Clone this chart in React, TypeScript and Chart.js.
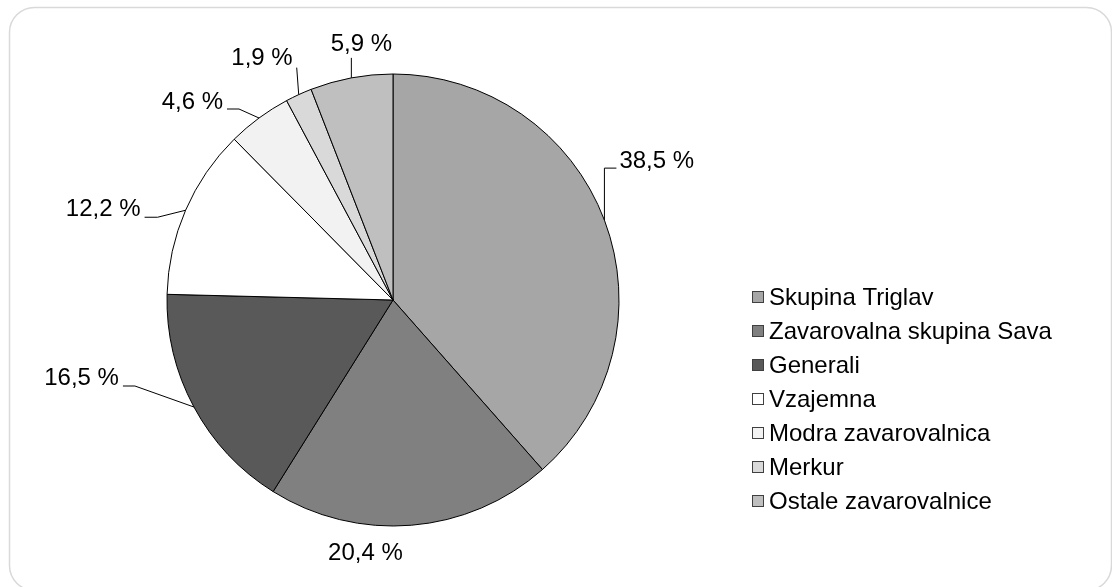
import React, { useEffect, useRef } from "react";
import { Chart, registerables } from "chart.js";

Chart.register(...registerables);

const categories = [
  "Skupina Triglav",
  "Zavarovalna skupina Sava",
  "Generali",
  "Vzajemna",
  "Modra zavarovalnica",
  "Merkur",
  "Ostale zavarovalnice",
];
const shares = [38.5, 20.4, 16.5, 12.2, 4.6, 1.9, 5.9];
const shareLabels = ["38,5 %", "20,4 %", "16,5 %", "12,2 %", "4,6 %", "1,9 %", "5,9 %"];
const sliceColors = ["#a6a6a6", "#808080", "#595959", "#ffffff", "#f2f2f2", "#d9d9d9", "#bfbfbf"];

// Label placement relative to the outer mid-point of each slice (layout, not data)
type Align = "left" | "right" | "center";
const labelLayout: { line: number[][]; text: number[]; align: Align }[] = [
  { line: [[0, -52], [12, -52]], text: [15, -59], align: "left" },
  { line: [], text: [-46, 28], align: "center" },
  { line: [[-59, -21], [-71, -21]], text: [-75, -29], align: "right" },
  { line: [[-28, 7], [-41, 7]], text: [-45, -1], align: "right" },
  { line: [[-20, -9], [-32, -9]], text: [-36, -16], align: "right" },
  { line: [[-2, -27]], text: [-6, -36], align: "right" },
  { line: [[0, -20]], text: [10, -33], align: "center" },
];

const FONT = '24px "Liberation Sans", Arial, sans-serif';

const framePlugin = {
  id: "frame",
  beforeDraw(chart: any) {
    const ctx = chart.ctx;
    ctx.save();
    ctx.fillStyle = "#ffffff";
    ctx.fillRect(0, 0, chart.width, chart.height);
    ctx.strokeStyle = "#d9d9d9";
    ctx.lineWidth = 1.5;
    ctx.beginPath();
    (ctx as any).roundRect(9.5, 7.5, 1102, 583, 25);
    ctx.stroke();
    ctx.restore();
  },
};

const labelPlugin = {
  id: "sliceLabels",
  afterDatasetsDraw(chart: any) {
    const ctx = chart.ctx;
    const meta = chart.getDatasetMeta(0);
    ctx.save();
    ctx.font = FONT;
    ctx.fillStyle = "#000000";
    ctx.strokeStyle = "#000000";
    ctx.lineWidth = 1;
    ctx.textBaseline = "middle";
    meta.data.forEach((arc: any, i: number) => {
      const { x, y, startAngle, endAngle, outerRadius } = arc.getProps(
        ["x", "y", "startAngle", "endAngle", "outerRadius"],
        true
      );
      const mid = (startAngle + endAngle) / 2;
      const ax = x + Math.cos(mid) * outerRadius;
      const ay = y + Math.sin(mid) * outerRadius;
      const lay = labelLayout[i];
      if (lay.line.length) {
        ctx.beginPath();
        ctx.moveTo(ax, ay);
        lay.line.forEach((p) => ctx.lineTo(ax + p[0], ay + p[1]));
        ctx.stroke();
      }
      ctx.textAlign = lay.align;
      ctx.fillText(shareLabels[i], ax + lay.text[0], ay + lay.text[1]);
    });
    ctx.restore();
  },
};

const legendPlugin = {
  id: "customLegend",
  afterDraw(chart: any) {
    const ctx = chart.ctx;
    const left = 752;
    const top = 297;
    const rowGap = 34;
    const box = 12;
    ctx.save();
    ctx.font = FONT;
    ctx.textBaseline = "middle";
    ctx.textAlign = "left";
    chart.data.labels.forEach((label: string, i: number) => {
      const cy = top + i * rowGap;
      ctx.fillStyle = sliceColors[i];
      ctx.fillRect(left, cy - box / 2, box, box);
      ctx.strokeStyle = "#404040";
      ctx.lineWidth = 1;
      ctx.strokeRect(left + 0.5, cy - box / 2 + 0.5, box - 1, box - 1);
      ctx.fillStyle = "#000000";
      ctx.fillText(label, left + 17, cy + 1);
    });
    ctx.restore();
  },
};

export default function App() {
  const ref = useRef<HTMLCanvasElement | null>(null);

  useEffect(() => {
    if (!ref.current) return;
    const chart = new Chart(ref.current, {
      type: "pie",
      data: {
        labels: categories,
        datasets: [
          {
            data: shares,
            backgroundColor: sliceColors,
            borderColor: "#000000",
            borderWidth: 1,
          },
        ],
      },
      options: {
        animation: false,
        responsive: false,
        devicePixelRatio: 1,
        radius: 226,
        layout: { padding: { left: 167, right: 493, top: 74, bottom: 61 } },
        plugins: {
          legend: { display: false },
          tooltip: { enabled: false },
        },
      } as any,
      plugins: [framePlugin, labelPlugin, legendPlugin],
    });
    return () => chart.destroy();
  }, []);

  return (
    <div style={{ position: "absolute", left: 0, top: 0, width: 1112, height: 587 }}>
      <canvas ref={ref} width={1112} height={587} style={{ width: 1112, height: 587, display: "block" }} />
    </div>
  );
}
